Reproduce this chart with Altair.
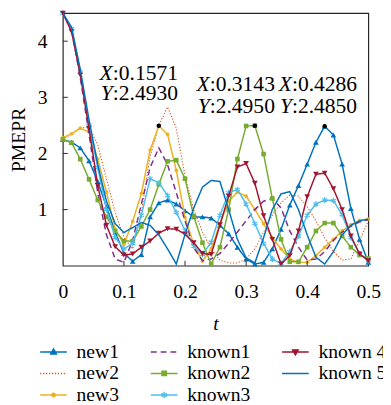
import altair as alt
import pandas as pd

# sample times t = k/70, k = 0..35
t_vals = [round(k / 70, 6) for k in range(36)]

new1 = [2.25, 2.2, 2.1, 1.87, 1.5, 1.05, 0.6, 0.22, 0.08, 0.2, 0.87, 1.12, 1.17, 1.1, 0.98, 0.87, 0.87, 0.85,
        0.72, 0.57, 0.33, 0.12, 0.03, 0.06, 0.3, 0.65, 1.08, 1.43, 1.81, 2.2, 2.485, 2.33, 1.81, 1.02, 0.47, 0.06]
new2 = [2.25, 2.35, 2.45, 2.48, 2.15, 1.55, 0.95, 0.5, 0.3, 0.95, 1.95, 2.5, 2.83, 2.45, 1.6, 1.0, 0.6, 0.3,
        0.1, 0.05, 0.05, 0.12, 0.3, 0.6, 0.9, 1.12, 1.26, 1.24, 1.05, 0.8, 0.5, 0.25, 0.1, 0.12, 0.45, 0.8]
new3 = [2.28, 2.35, 2.45, 2.38, 1.9, 1.31, 0.65, 0.38, 0.79, 1.29, 2.06, 2.493, 2.34, 1.7, 0.86, 0.38, 0.08, 0.3,
        0.75, 1.15, 1.31, 1.24, 1.0, 0.75, 0.5, 0.3, 0.12, 0.06, 0.06, 0.18, 0.33, 0.47, 0.62, 0.73, 0.81, 0.83]
known1 = [4.5, 4.2, 3.35, 2.35, 1.3, 0.55, 0.12, 0.06, 0.45, 1.1, 1.75, 2.1, 1.8, 1.3, 0.8, 0.32, 0.09, 0.12,
          0.22, 0.4, 0.6, 0.8, 1.0, 1.15, 1.2, 1.03, 0.62, 0.33, 0.1, 0.12, 0.25, 0.45, 0.6, 0.7, 0.78, 0.82]
known2 = [2.25, 2.19, 1.9, 1.54, 1.17, 0.87, 0.62, 0.44, 0.44, 0.70, 1.0, 1.45, 1.86, 1.88, 1.55, 0.88, 0.41, 0.03,
          0.33, 1.0, 1.9, 2.49, 2.495, 1.99, 1.2, 0.47, 0.07, 0.07, 0.33, 0.62, 0.76, 0.76, 0.53, 0.33, 0.19, 0.13]
known3 = [4.5, 4.22, 3.45, 2.5, 1.75, 1.0, 0.5, 0.3, 0.4, 0.9, 1.55, 1.48, 1.25, 0.95, 0.63, 0.35, 0.2, 0.42,
          0.9, 1.3, 1.36, 1.1, 0.75, 0.4, 0.12, 0.04, 0.25, 0.53, 0.9, 1.1, 1.17, 1.16, 0.91, 0.5, 0.21, 0.09]
known4 = [4.5, 4.17, 3.40, 2.45, 1.43, 0.72, 0.34, 0.19, 0.21, 0.33, 0.44, 0.58, 0.66, 0.65, 0.56, 0.41, 0.22, 0.2,
          0.73, 1.24, 1.76, 1.82, 1.47, 0.89, 0.47, 0.03, 0.18, 0.62, 1.23, 1.63, 1.65, 1.37, 1.0, 0.53, 0.21, 0.09]
known5 = [4.5, 4.25, 3.5, 2.6, 1.8, 1.15, 0.75, 0.59, 0.68, 0.77, 0.72, 0.55, 0.3, 0.03, 0.56, 1.03, 1.4, 1.52,
          1.5, 1.0, 0.47, 0.14, 0.05, 0.5, 1.0, 1.28, 1.32, 1.0, 0.55, 0.15, 0.03, 0.25, 0.55, 0.72, 0.8, 0.83]

series_names = ["new1", "new2", "new3", "known1", "known2", "known3", "known 4", "known 5"]
series_vals = [new1, new2, new3, known1, known2, known3, known4, known5]

# data tips
tip_t = [0.1571, 0.3143, 0.4286]
tip_v = [2.4930, 2.4950, 2.4850]
# label anchor (colon position) and baselines of the two text rows, in data units
lab_t = [0.0817, 0.2404, 0.375]
lab_vx = [3.316, 3.106, 3.106]
lab_vy = [2.949, 2.723, 2.723]

x_ticks = [0.1, 0.2, 0.3, 0.4]
y_ticks = [1, 2, 3, 4]

# ---------------- styling ----------------
FONT = "Liberation Serif"
style = {
    "new1": dict(color="#0072BD", dash=[1, 0], width=1.5, marker="triangle-up", msize=34,
                 leg="M-1.7,0H1.7M0,-0.38L0.36,0.26L-0.36,0.26Z"),
    "new2": dict(color="#D95319", dash=[1.2, 1.8], width=1.1, marker=None, msize=0,
                 leg="M-1.7,0H1.7"),
    "new3": dict(color="#EDB120", dash=[1, 0], width=1.5, marker="circle", msize=14,
                 leg="M-1.7,0H1.7M-0.22,0A0.22,0.22 0 1,0 0.22,0A0.22,0.22 0 1,0 -0.22,0Z"),
    "known1": dict(color="#7E2F8E", dash=[6, 4], width=1.5, marker=None, msize=0,
                   leg="M-1.7,0H1.7"),
    "known2": dict(color="#77AC30", dash=[1, 0], width=1.5, marker="square", msize=22,
                   leg="M-1.7,0H1.7M-0.28,-0.28H0.28V0.28H-0.28Z"),
    "known3": dict(color="#4DBEEE", dash=[1, 0], width=1.5,
                   marker="M0,-1V1M-0.87,-0.5L0.87,0.5M-0.87,0.5L0.87,-0.5", msize=36,
                   leg="M-1.7,0H1.7M0,-0.4V0.4M-0.35,-0.2L0.35,0.2M-0.35,0.2L0.35,-0.2"),
    "known 4": dict(color="#A2142F", dash=[1, 0], width=1.5, marker="triangle-down", msize=34,
                    leg="M-1.7,0H1.7M0,0.38L0.36,-0.26L-0.36,-0.26Z"),
    "known 5": dict(color="#0072BD", dash=[1, 0], width=1.5, marker=None, msize=0,
                    leg="M-1.7,0H1.7"),
}

# legend entries fill column by column: new1..3 | known1..3 | known 4, known 5
legend_order = series_names
color_range = [style[s]["color"] for s in legend_order]
dash_range = [style[s]["dash"] for s in legend_order]
leg_paths = [style[s]["leg"] for s in legend_order]

rows = []
for name, vals in zip(series_names, series_vals):
    for t, v in zip(t_vals, vals):
        rows.append({"series": name, "t": t, "v": v})
df = pd.DataFrame(rows)

x_enc = alt.X("t:Q", scale=alt.Scale(domain=[0, 0.5], nice=False, zero=False),
              axis=alt.Axis(values=[0, 0.1, 0.2, 0.3, 0.4, 0.5],
                            labelExpr="datum.value == 0 ? '0' : format(datum.value, '.1f')",
                            title="t", titleFontStyle="italic", titlePadding=13),
              title="t")
y_enc = alt.Y("v:Q", scale=alt.Scale(domain=[0, 4.5], nice=False, zero=True),
              axis=alt.Axis(values=y_ticks, title="PMEPR", titlePadding=9),
              title="PMEPR")

base = alt.Chart(df)
layers = []
for name in series_names:
    st = style[name]
    sub = base.transform_filter(alt.datum.series == name)
    layers.append(sub.mark_line(strokeWidth=st["width"], color=st["color"],
                                strokeDash=st["dash"]).encode(x=x_enc, y=y_enc))
    if st["marker"]:
        filled = not st["marker"].startswith("M")
        layers.append(sub.mark_point(shape=st["marker"], filled=filled, size=st["msize"],
                                     opacity=1, strokeWidth=1.2, color=st["color"]).encode(
            x=x_enc, y=y_enc))

# inward ticks
xt_df = pd.DataFrame({"t": x_ticks})
yt_df = pd.DataFrame({"v": y_ticks})
layers.append(alt.Chart(xt_df).mark_rule(color="#262626", strokeWidth=1).encode(
    x=x_enc, y=alt.value(258), y2=alt.value(253)))
layers.append(alt.Chart(yt_df).mark_rule(color="#262626", strokeWidth=1).encode(
    y=y_enc, x=alt.value(0), x2=alt.value(5)))

# data tips
tip_df = pd.DataFrame({"t": tip_t, "v": tip_v})
layers.append(alt.Chart(tip_df).mark_circle(color="black", size=22, opacity=1).encode(x=x_enc, y=y_enc))

ann_rows = []
for lt, vx, vy, tt, tv in zip(lab_t, lab_vx, lab_vy, tip_t, tip_v):
    ann_rows.append({"t": lt, "v": vx, "letter": "X", "rest": ":" + f"{tt:.4f}"})
    ann_rows.append({"t": lt, "v": vy, "letter": "Y", "rest": ":" + f"{tv:.4f}"})
ann_df = pd.DataFrame(ann_rows)
ann = alt.Chart(ann_df)
layers.append(ann.mark_text(align="right", baseline="alphabetic", font=FONT, fontSize=22,
                            fontStyle="italic", color="black").encode(x=x_enc, y=y_enc, text="letter:N"))
layers.append(ann.mark_text(align="left", baseline="alphabetic", font=FONT, fontSize=22,
                            color="black").encode(x=x_enc, y=y_enc, text="rest:N"))

# legend layer (no visible data, explicit domain)
leg = alt.Legend(title=None, orient="none", legendX=-19.5, legendY=336, columns=3,
                 symbolSize=256, symbolStrokeWidth=1.5, labelFont=FONT, labelFontSize=20,
                 labelColor="black", labelOffset=13.5, columnPadding=29, rowPadding=2,
                 padding=0, labelLimit=300)
layers.append(base.transform_filter("false").mark_point(filled=True, opacity=1, strokeWidth=1.5).encode(
    x=x_enc, y=y_enc,
    color=alt.Color("series:N", scale=alt.Scale(domain=legend_order, range=color_range), legend=leg),
    stroke=alt.Stroke("series:N", scale=alt.Scale(domain=legend_order, range=color_range), legend=leg),
    shape=alt.Shape("series:N", scale=alt.Scale(domain=legend_order, range=leg_paths), legend=leg),
    strokeDash=alt.StrokeDash("series:N", scale=alt.Scale(domain=legend_order, range=dash_range), legend=leg),
))

chart = alt.layer(*layers).properties(
    width=312, height=258,
    autosize=alt.AutoSizeParams(type="none"),
    padding={"left": 56, "top": 1, "right": 15, "bottom": 138},
).configure_view(
    stroke="#262626", strokeWidth=1.2
).configure_axis(
    domain=False, ticks=False, grid=False,
    labelFont=FONT, labelFontSize=20, labelColor="black", labelPadding=16,
    labelFlush=False, labelOverlap=False,
    titleFont=FONT, titleFontSize=20, titleColor="black", titleFontWeight="normal",
)

chart.save("out.html", embed_options={"renderer": "svg", "actions": False})
